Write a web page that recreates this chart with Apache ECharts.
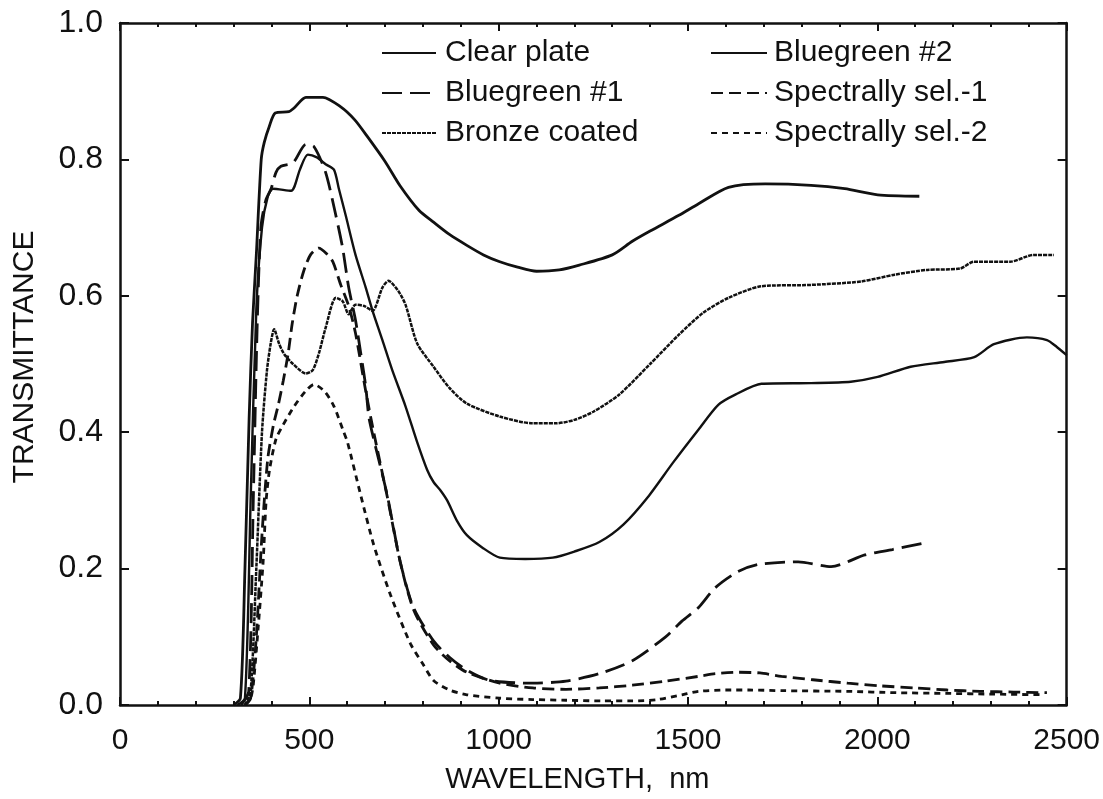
<!DOCTYPE html>
<html>
<head>
<meta charset="utf-8">
<title>Spectral transmittance of glazings</title>
<script src="https://cdn.jsdelivr.net/npm/echarts@6/dist/echarts.min.js"></script>
<style>
  html, body { margin: 0; padding: 0; background: #fff; }
  #chart { width: 1103px; height: 799px; }
</style>
</head>
<body>
<div id="chart"></div>
<script>
// Wavelength (nm) / transmittance readings for each glazing
const clearWl = [300, 318, 330, 341, 350, 360, 373, 381, 394, 410, 446, 459, 491, 536, 583, 620, 654, 700, 740, 790, 828, 870, 916, 960, 1003, 1050, 1100, 1160, 1213, 1300, 1353, 1400, 1476, 1528, 1607, 1704, 1825, 1914, 2001, 2111];
const clearT  = [0, 0.01, 0.2, 0.42, 0.56, 0.66, 0.80, 0.825, 0.848, 0.868, 0.87, 0.875, 0.891, 0.891, 0.877, 0.858, 0.833, 0.797, 0.761, 0.725, 0.708, 0.69, 0.674, 0.66, 0.65, 0.642, 0.636, 0.638, 0.645, 0.66, 0.68, 0.695, 0.718, 0.735, 0.759, 0.764, 0.762, 0.757, 0.748, 0.746];

const bg1Wl = [320, 340, 352, 362, 372, 385, 399, 412, 425, 457, 491, 512, 543, 570, 588, 604, 622, 636, 649, 657, 670, 706, 740, 775, 828, 870, 916, 977, 1090, 1178, 1266, 1353, 1441, 1484, 1528, 1572, 1630, 1686, 1791, 1878, 1967, 2040, 2120];
const bg1T  = [0, 0.02, 0.3, 0.55, 0.7, 0.74, 0.757, 0.781, 0.79, 0.795, 0.822, 0.819, 0.781, 0.718, 0.67, 0.612, 0.564, 0.515, 0.467, 0.423, 0.39, 0.307, 0.21, 0.143, 0.094, 0.07, 0.051, 0.036, 0.032, 0.035, 0.046, 0.065, 0.1, 0.123, 0.143, 0.172, 0.195, 0.206, 0.21, 0.203, 0.22, 0.228, 0.237];

const bronzeWl = [330, 345, 360, 375, 388, 398, 407, 420, 433, 457, 491, 509, 525, 543, 570, 588, 604, 622, 645, 667, 693, 709, 735, 754, 785, 828, 870, 916, 1003, 1090, 1150, 1200, 1250, 1318, 1400, 1476, 1540, 1607, 1694, 1825, 1957, 2046, 2132, 2219, 2255, 2351, 2413, 2466];
const bronzeT  = [0, 0.02, 0.2, 0.4, 0.49, 0.53, 0.551, 0.53, 0.515, 0.5, 0.486, 0.491, 0.515, 0.553, 0.597, 0.592, 0.573, 0.587, 0.585, 0.578, 0.612, 0.622, 0.607, 0.587, 0.53, 0.496, 0.465, 0.442, 0.423, 0.413, 0.413, 0.418, 0.43, 0.455, 0.5, 0.543, 0.575, 0.597, 0.614, 0.616, 0.621, 0.631, 0.638, 0.64, 0.65, 0.65, 0.66, 0.66];

const bg2Wl = [310, 330, 345, 360, 375, 390, 404, 452, 475, 496, 520, 543, 565, 578, 596, 622, 649, 667, 693, 719, 754, 785, 811, 828, 846, 864, 890, 916, 959, 1003, 1070, 1143, 1200, 1266, 1330, 1397, 1460, 1528, 1580, 1625, 1694, 1825, 1930, 2001, 2088, 2177, 2256, 2308, 2395, 2448, 2474, 2500];
const bg2T  = [0, 0.01, 0.3, 0.58, 0.7, 0.745, 0.757, 0.754, 0.785, 0.807, 0.803, 0.793, 0.785, 0.757, 0.718, 0.66, 0.612, 0.578, 0.535, 0.491, 0.438, 0.385, 0.345, 0.327, 0.315, 0.3, 0.27, 0.249, 0.23, 0.216, 0.214, 0.216, 0.225, 0.239, 0.265, 0.307, 0.355, 0.404, 0.44, 0.455, 0.471, 0.472, 0.474, 0.481, 0.496, 0.503, 0.51, 0.529, 0.539, 0.535, 0.525, 0.513];

const sel1Wl = [330, 345, 360, 375, 390, 405, 418, 431, 444, 455, 468, 485, 503, 525, 545, 562, 583, 604, 622, 649, 670, 706, 740, 775, 828, 870, 916, 1003, 1090, 1178, 1266, 1353, 1441, 1528, 1572, 1633, 1690, 1747, 1830, 1922, 2010, 2098, 2185, 2272, 2360, 2448];
const sel1T  = [0, 0.01, 0.1, 0.25, 0.36, 0.41, 0.44, 0.475, 0.515, 0.56, 0.6, 0.636, 0.66, 0.67, 0.662, 0.65, 0.616, 0.585, 0.545, 0.46, 0.4, 0.305, 0.21, 0.14, 0.088, 0.065, 0.048, 0.032, 0.025, 0.023, 0.025, 0.029, 0.035, 0.042, 0.046, 0.048, 0.047, 0.042, 0.037, 0.032, 0.028, 0.025, 0.022, 0.02, 0.019, 0.018];

const sel2Wl = [330, 345, 352, 365, 378, 386, 395, 412, 430, 460, 490, 512, 540, 565, 591, 601, 636, 670, 714, 767, 800, 828, 870, 916, 1003, 1090, 1178, 1270, 1353, 1420, 1484, 1528, 1600, 1660, 1750, 1922, 2050, 2185, 2300, 2440];
const sel2T  = [0, 0.01, 0.03, 0.114, 0.21, 0.3, 0.345, 0.39, 0.41, 0.438, 0.46, 0.47, 0.46, 0.438, 0.4, 0.385, 0.307, 0.235, 0.162, 0.09, 0.06, 0.036, 0.022, 0.015, 0.01, 0.008, 0.007, 0.006, 0.006, 0.008, 0.015, 0.02, 0.022, 0.022, 0.021, 0.02, 0.018, 0.017, 0.016, 0.015];

// Axis ticks
const xTicks = [0, 500, 1000, 1500, 2000, 2500];
const yTicks = [0.0, 0.2, 0.4, 0.6, 0.8, 1.0];

const FONT = '"Liberation Sans", Arial, Helvetica, sans-serif';
const INK = '#111';

const pairs = (wl, t) => wl.map((w, i) => [w, t[i]]);

function curve(name, wl, t, type, width) {
  return {
    name: name,
    type: 'line',
    data: pairs(wl, t),
    xAxisIndex: 0,
    yAxisIndex: 0,
    symbol: 'none',
    showSymbol: false,
    smooth: 0.25,
    silent: true,
    lineStyle: { color: INK, width: width, type: type, cap: 'butt' },
    // no point markers anywhere, including the legend swatch
    itemStyle: { color: 'rgba(0,0,0,0)', borderWidth: 0 }
  };
}

function xAxisDef(pos, labels) {
  return {
    type: 'value',
    position: pos,
    min: xTicks[0],
    max: xTicks[xTicks.length - 1],
    interval: xTicks[1] - xTicks[0],
    axisLine: { show: true, onZero: false, lineStyle: { color: INK, width: 2.5 } },
    axisTick: { show: true, inside: true, length: 8, lineStyle: { color: INK, width: 2 } },
    minorTick: { show: true, splitNumber: 5, length: 4, lineStyle: { color: INK, width: 2 } },
    axisLabel: {
      show: labels, color: INK, fontFamily: FONT, fontSize: 30, margin: 21,
      formatter: v => String(v)
    },
    splitLine: { show: false }
  };
}

function yAxisDef(pos, labels) {
  return {
    type: 'value',
    position: pos,
    min: yTicks[0],
    max: yTicks[yTicks.length - 1],
    interval: yTicks[1] - yTicks[0],
    axisLine: { show: true, onZero: false, lineStyle: { color: INK, width: 2.5 } },
    axisTick: { show: true, inside: true, length: 9, lineStyle: { color: INK, width: 2 } },
    axisLabel: {
      show: labels, color: INK, fontFamily: FONT, fontSize: 32, margin: 17,
      formatter: v => v.toFixed(1)
    },
    splitLine: { show: false }
  };
}

const chart = echarts.init(document.getElementById('chart'), null, { renderer: 'canvas' });

const xBottom = xAxisDef('bottom', true);
xBottom.name = 'WAVELENGTH,  nm';
xBottom.nameLocation = 'middle';
xBottom.nameGap = 60;
xBottom.nameTextStyle = { color: INK, fontFamily: FONT, fontSize: 29, padding: [0, 32, 0, 0] };

const yLeft = yAxisDef('left', true);
yLeft.name = 'TRANSMITTANCE';
yLeft.nameLocation = 'middle';
yLeft.nameRotate = 90;
yLeft.nameGap = 80;
yLeft.nameTextStyle = { color: INK, fontFamily: FONT, fontSize: 30, padding: [0, 0, 0, 14] };

const legendText = { color: INK, fontFamily: FONT, fontSize: 30, lineHeight: 30 };

chart.setOption({
  backgroundColor: '#fff',
  animation: false,
  grid: { left: 120, right: 31, top: 23, bottom: 87, containLabel: false },
  xAxis: [xBottom, xAxisDef('top', false)],
  yAxis: [yLeft, yAxisDef('right', false)],
  legend: [
    {
      data: ['Clear plate', 'Bluegreen #1', 'Bronze coated'],
      orient: 'vertical', left: 376, top: 33,
      itemWidth: 54, itemHeight: 16, itemGap: 10,
      textStyle: Object.assign({ padding: [0, 0, 0, 4] }, legendText),
      selectedMode: false
    },
    {
      data: ['Bluegreen #2', 'Spectrally sel.-1', 'Spectrally sel.-2'],
      orient: 'vertical', left: 705, top: 33,
      itemWidth: 56, itemHeight: 16, itemGap: 10,
      textStyle: Object.assign({ padding: [0, 0, 0, 2] }, legendText),
      selectedMode: false
    }
  ],
  series: [
    curve('Clear plate', clearWl, clearT, 'solid', 2.8),
    curve('Bluegreen #1', bg1Wl, bg1T, [20, 8], 2.8),
    curve('Bronze coated', bronzeWl, bronzeT, [4, 1], 2.5),
    curve('Bluegreen #2', bg2Wl, bg2T, 'solid', 2.4),
    curve('Spectrally sel.-1', sel1Wl, sel1T, [12, 6], 2.8),
    curve('Spectrally sel.-2', sel2Wl, sel2T, [6, 5], 2.8)
  ]
});
</script>
</body>
</html>
